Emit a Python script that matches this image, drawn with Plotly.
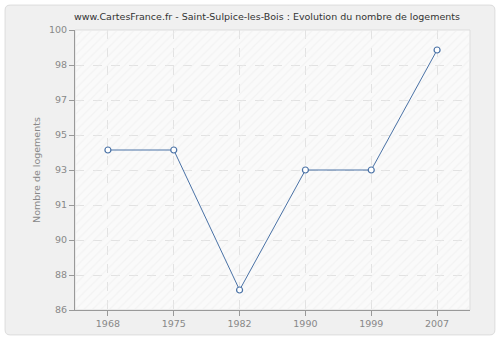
import plotly.graph_objects as go

years = ["1968", "1975", "1982", "1990", "1999", "2007"]
logements = [94, 94, 87, 93, 93, 99]
y_tick_values = [86, 87.75, 89.5, 91.25, 93, 94.75, 96.5, 98.25, 100]
y_tick_labels = ["86", "88", "90", "91", "93", "95", "97", "98", "100"]

title = "www.CartesFrance.fr - Saint-Sulpice-les-Bois : Evolution du nombre de logements"

positions = list(range(len(years)))
x_lo, x_hi = -0.5, len(years) - 0.5
y_lo, y_hi = y_tick_values[0], y_tick_values[-1]

fig = go.Figure()

# hatched background of plot area
fig.add_trace(go.Scatter(
    x=[x_lo, x_hi, x_hi, x_lo, x_lo], y=[y_lo, y_lo, y_hi, y_hi, y_lo],
    mode="lines", line=dict(width=0), fill="toself", fillcolor="rgba(0,0,0,0)",
    fillpattern=dict(shape="/", fgcolor="#ebebeb", bgcolor="rgba(0,0,0,0)", size=6, solidity=0.2),
    hoverinfo="skip", showlegend=False,
))

fig.add_trace(go.Scatter(
    x=positions, y=logements, mode="lines+markers",
    line=dict(color="#4a72a6", width=1),
    marker=dict(symbol="circle", size=6, color="white", line=dict(color="#4a72a6", width=1.2)),
    showlegend=False,
))

FONT = "DejaVu Sans"
FS = 9.5

fig.update_layout(
    width=500, height=340,
    margin=dict(l=75, r=30, t=30, b=30),
    paper_bgcolor="white", plot_bgcolor="#fafafa",
    title=dict(text=title, x=0.534, xref="container", xanchor="center", y=0.95, yanchor="middle",
               font=dict(family=FONT, size=FS, color="#333333")),
    font=dict(family=FONT, size=FS, color="#888888"),
    xaxis=dict(range=[x_lo, x_hi], tickvals=positions, ticktext=years,
               showline=True, linecolor="#999999", linewidth=1,
               ticks="outside", ticklen=5, tickcolor="#999999",
               showgrid=True, gridcolor="#e2e2e2", griddash="dash", gridwidth=1,
               tickfont=dict(size=FS, color="#888888"), zeroline=False),
    yaxis=dict(range=[y_lo, y_hi], tickvals=y_tick_values, ticktext=y_tick_labels,
               showline=True, linecolor="#999999", linewidth=1,
               ticks="outside", ticklen=5, tickcolor="#999999",
               showgrid=True, gridcolor="#e2e2e2", griddash="dash", gridwidth=1,
               tickfont=dict(size=FS, color="#888888"), zeroline=False,
               title=dict(text="Nombre de logements", font=dict(size=FS, color="#888888"), standoff=6)),
    shapes=[
        dict(type="path", xref="paper", yref="paper", layer="below",
             path="M -0.164,1.089 L 1.05,1.089 Q 1.063,1.089 1.063,1.071 L 1.063,-0.071 Q 1.063,-0.089 1.05,-0.089 "
                  "L -0.164,-0.089 Q -0.177,-0.089 -0.177,-0.071 L -0.177,1.071 Q -0.177,1.089 -0.164,1.089 Z",
             fillcolor="#f0f0f0", line=dict(color="#dcdcdc", width=1)),
        dict(type="rect", xref="paper", yref="paper", x0=0, x1=1, y0=0, y1=1, layer="below",
             fillcolor="#fafafa", line=dict(color="#dddddd", width=1)),
    ],
)

fig.write_html("out.html")
